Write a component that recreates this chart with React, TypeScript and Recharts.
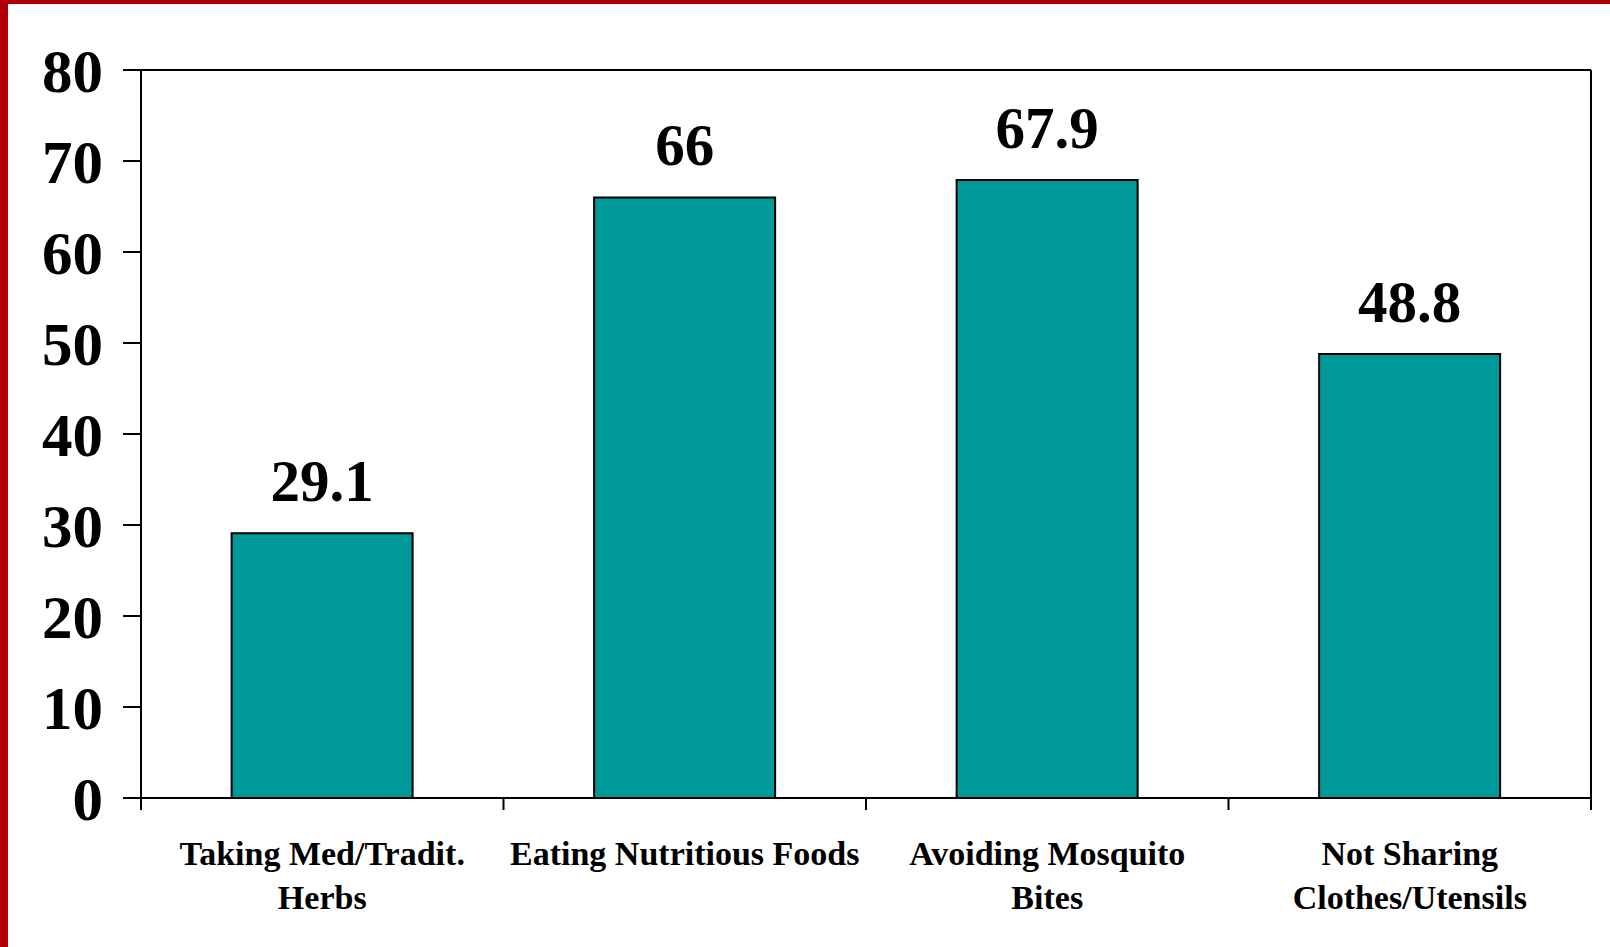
import React from "react";
import { BarChart, Bar, XAxis, YAxis, LabelList } from "recharts";

const categories = [
  "Taking Med/Tradit.\nHerbs",
  "Eating Nutritious Foods",
  "Avoiding Mosquito\nBites",
  "Not Sharing\nClothes/Utensils",
];
const values = [29.1, 66, 67.9, 48.8];
const yTicks = [0, 10, 20, 30, 40, 50, 60, 70, 80];

const data = categories.map((name, i) => ({ name, value: values[i] }));

const FONT = '"Liberation Serif", "Times New Roman", serif';

// category label plus tick marks on the band boundaries
const CategoryTick = ({ x, y, payload, index, visibleTicksCount }: any) => {
  const lines = String(payload.value).split("\n");
  const half = payload.offset ?? 0;
  const last = index === (visibleTicksCount ?? categories.length) - 1;
  return (
    <g>
      <line x1={x - half} x2={x - half} y1={y} y2={y + 12} stroke="#000" strokeWidth={2} />
      {last && <line x1={x + half} x2={x + half} y1={y} y2={y + 12} stroke="#000" strokeWidth={2} />}
      <text
        x={x}
        y={y}
        textAnchor="middle"
        fontFamily={FONT}
        fontWeight="bold"
        fontSize={34}
        fill="#000"
      >
        {lines.map((line, i) => (
          <tspan key={i} x={x} dy={i === 0 ? 67 : 44}>
            {line}
          </tspan>
        ))}
      </text>
    </g>
  );
};

const App = () => {
  return (
    <div
      style={{
        position: "absolute",
        left: 0,
        top: 0,
        width: 1610,
        height: 947,
        background: "#fff",
        overflow: "hidden",
      }}
    >
      <div style={{ position: "absolute", left: 0, top: 0, width: 1610, height: 4, background: "#AF0007" }} />
      <div style={{ position: "absolute", left: 0, top: 0, width: 8, height: 947, background: "#AF0007" }} />
      <div style={{ position: "absolute", left: 0, top: 0 }}>
        <BarChart
          width={1610}
          height={947}
          data={data}
          margin={{ top: 69, right: 18, left: 0, bottom: 0 }}
          barCategoryGap="25%"
        >
          <XAxis
            xAxisId="cat"
            dataKey="name"
            height={149}
            axisLine={{ stroke: "#000", strokeWidth: 2 }}
            tickLine={false}
            tickSize={0}
            tickMargin={0}
            interval={0}
            tick={<CategoryTick />}
          />
          <XAxis
            xAxisId="top"
            orientation="top"
            height={1}
            tick={false}
            tickLine={false}
            axisLine={{ stroke: "#000", strokeWidth: 2 }}
          />
          <YAxis
            yAxisId="left"
            domain={[0, 80]}
            ticks={yTicks}
            width={141}
            tickSize={18}
            tickMargin={20}
            interval={0}
            axisLine={{ stroke: "#000", strokeWidth: 2 }}
            tickLine={{ stroke: "#000", strokeWidth: 2 }}
            tick={{ fontSize: 61, fontWeight: "bold", fill: "#000", fontFamily: FONT }}
          />
          <YAxis
            yAxisId="right"
            orientation="right"
            domain={[0, 80]}
            width={1}
            tick={false}
            tickLine={false}
            axisLine={{ stroke: "#000", strokeWidth: 2 }}
          />
          <Bar
            xAxisId="cat"
            yAxisId="left"
            dataKey="value"
            fill="#009999"
            stroke="#000"
            strokeWidth={2}
            isAnimationActive={false}
          >
            <LabelList
              dataKey="value"
              position="top"
              offset={32}
              fill="#000"
              fontSize={59}
              fontWeight="bold"
              fontFamily={FONT}
            />
          </Bar>
        </BarChart>
      </div>
    </div>
  );
};

export default App;
